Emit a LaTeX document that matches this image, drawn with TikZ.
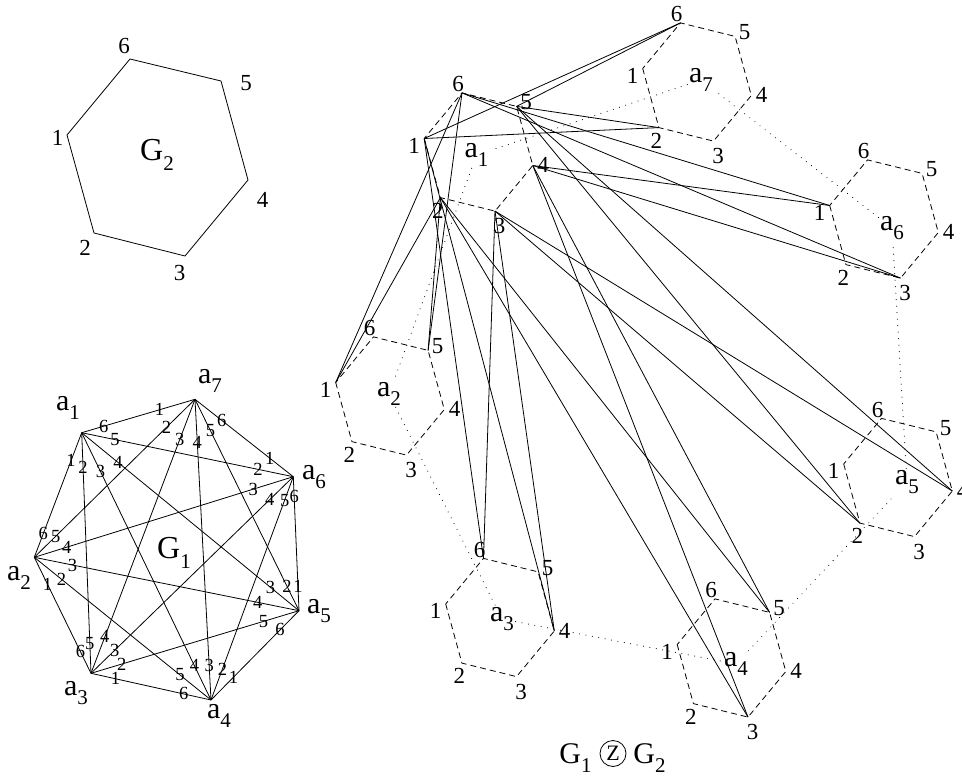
\documentclass[tikz,border=0pt]{standalone}
\usepackage{fontspec}
\setmainfont{Liberation Serif}
\usetikzlibrary{calc}

% lowered index in the text font
\newcommand{\idx}[1]{\raisebox{-0.3em}{\fontsize{21}{21}\selectfont #1}}

\tikzset{
  gline/.style={line width=0.8pt},
  hexdash/.style={line width=0.8pt, dash pattern=on 6pt off 4pt},
  ringdot/.style={line width=1.1pt, dash pattern=on 0.01pt off 6.5pt, line cap=round},
  portlab/.style={font=\fontsize{18.5}{19}\selectfont, inner sep=0pt},
  hexlab/.style={font=\fontsize{23}{23}\selectfont, inner sep=0pt},
  vlab/.style={font=\fontsize{30}{30}\selectfont, inner sep=1.5pt},
  glab/.style={font=\fontsize{32}{32}\selectfont, inner sep=0pt},
  titlab/.style={font=\fontsize{30}{30}\selectfont, inner sep=0pt},
  zmark/.style={draw, circle, line width=0.8pt, minimum size=26pt, inner sep=0pt, font=\fontsize{22}{22}\selectfont}
}

\begin{document}
\begin{tikzpicture}[x=1pt, y=-1pt]
    \useasboundingbox (0,0) rectangle (962,776);

    % G2: the hexagon
    \coordinate (g1) at (67,135);
    \coordinate (g2) at (94,233);
    \coordinate (g3) at (185,256);
    \coordinate (g4) at (248,180);
    \coordinate (g5) at (221,81);
    \coordinate (g6) at (130,59);
    \draw[gline] (g1) -- (g6) -- (g5) -- (g4) -- (g3) -- (g2) -- cycle;
    \foreach \k/\x/\y in {1/57.5/138, 2/85/248, 3/179.5/273, 4/262.5/200, 5/246/83, 6/124/46}
        \node[hexlab] (lg\k) at (\x,\y) {\k};
    \node[glab] (G2) at (157,155) {G\idx{2}};

    % G1: complete graph on a1..a7
    \foreach \i/\x/\y in {1/81.7/432.7, 2/34.3/557.3, 3/91/673.3, 4/211/700, 5/299/610.7, 6/293.3/476.7, 7/195/399.3}
        \coordinate (a\i) at (\x,\y);
    \foreach \i in {1,...,7}
        \foreach \k in {1,2,3} {
            \pgfmathtruncatemacro{\j}{mod(\i+\k-1,7)+1}
            \draw[gline] (a\i) -- (a\j);
        }

    % port numbers: port k of a_i leads to a_{i+k}
    \foreach \i/\k/\d in {1/1/30, 1/2/35, 1/3/43, 1/4/47, 1/5/34, 1/6/23,
                          2/1/30, 2/2/35, 2/3/39, 2/4/34, 2/5/30, 2/6/25,
                          3/1/25, 3/2/32, 3/3/33, 3/4/39, 3/5/30, 3/6/24,
                          4/1/32, 4/2/33, 4/3/35, 4/4/38, 4/5/40, 4/6/28,
                          5/1/24, 5/2/27, 5/3/37, 5/4/42, 5/5/37, 5/6/27,
                          6/1/30, 6/2/36, 6/3/42, 6/4/33, 6/5/25, 6/6/20,
                          7/1/37, 7/2/40, 7/3/43, 7/4/43, 7/5/35, 7/6/34} {
        \pgfmathtruncatemacro{\j}{mod(\i+\k-1,7)+1}
        \node[portlab] at ($(a\i)!\d pt!(a\j)$) {\k};
    }

    % names of the G1 vertices
    \foreach \i/\x/\y in {1/68/408, 2/19/578, 3/76/693, 4/219/716, 5/319/611, 6/314/477, 7/210/381}
        \node[vlab] (la\i) at (\x,\y) {a\idx{\i}};
    \node[glab] (G1) at (174,553) {G\idx{1}};

    % Zig-zag product: one dashed copy of G2 per vertex of G1
    \foreach \i/\cx/\cy in {1/478.5/152, 2/390/396, 3/500/617.5, 4/731.5/658, 5/898/477.5, 6/884/219, 7/697/82} {
        \foreach \k/\dx/\dy/\lx/\ly in {1/-54.3/-13.5/-10/7, 2/-38.1/45.6/-2.5/13, 3/16.5/59.1/4.7/15.3,
                                        4/54.3/13.5/10.3/-0.3, 5/38.1/-45.6/9.5/-4.3, 6/-16.5/-59.1/-4/-8.5} {
            \coordinate (h\i-\k) at ({\cx+\dx},{\cy+\dy});
            \node[hexlab] at ($(h\i-\k)+(\lx,\ly)$) {\k};
        }
        \draw[hexdash] (h\i-1) -- (h\i-2) -- (h\i-3) -- (h\i-4) -- (h\i-5) -- (h\i-6) -- cycle;
    }

    % dotted ring through the clouds
    \foreach \i/\x/\y in {1/476.5/155, 2/389/394, 3/502/619, 4/736/664, 5/907/482, 6/892/228, 7/701/80}
        \node[vlab] (z\i) at (\x,\y) {a\idx{\i}};
    \foreach \i in {1,...,7} {
        \pgfmathtruncatemacro{\j}{mod(\i,7)+1}
        \draw[ringdot] (z\i) -- (z\j);
    }

    % product edges leaving the cloud of a1
    \foreach \k/\w/\l in {1/7/6, 1/7/2, 1/3/4, 1/3/6, 2/2/5, 2/2/1, 2/4/3, 2/4/5,
                          3/3/4, 3/3/6, 3/5/2, 3/5/4, 4/4/3, 4/4/5, 4/6/1, 4/6/3,
                          5/5/2, 5/5/4, 5/7/6, 5/7/2, 6/6/1, 6/6/3, 6/2/5, 6/2/1}
        \draw[gline] (h1-\k) -- (h\w-\l);

    % caption
    \node[zmark] (zz) at (613,753.5) {Z};
    \node[titlab] (t1) at (575.5,758) {G\idx{1}};
    \node[titlab] (t2) at (649.5,758) {G\idx{2}};
\end{tikzpicture}
\end{document}
